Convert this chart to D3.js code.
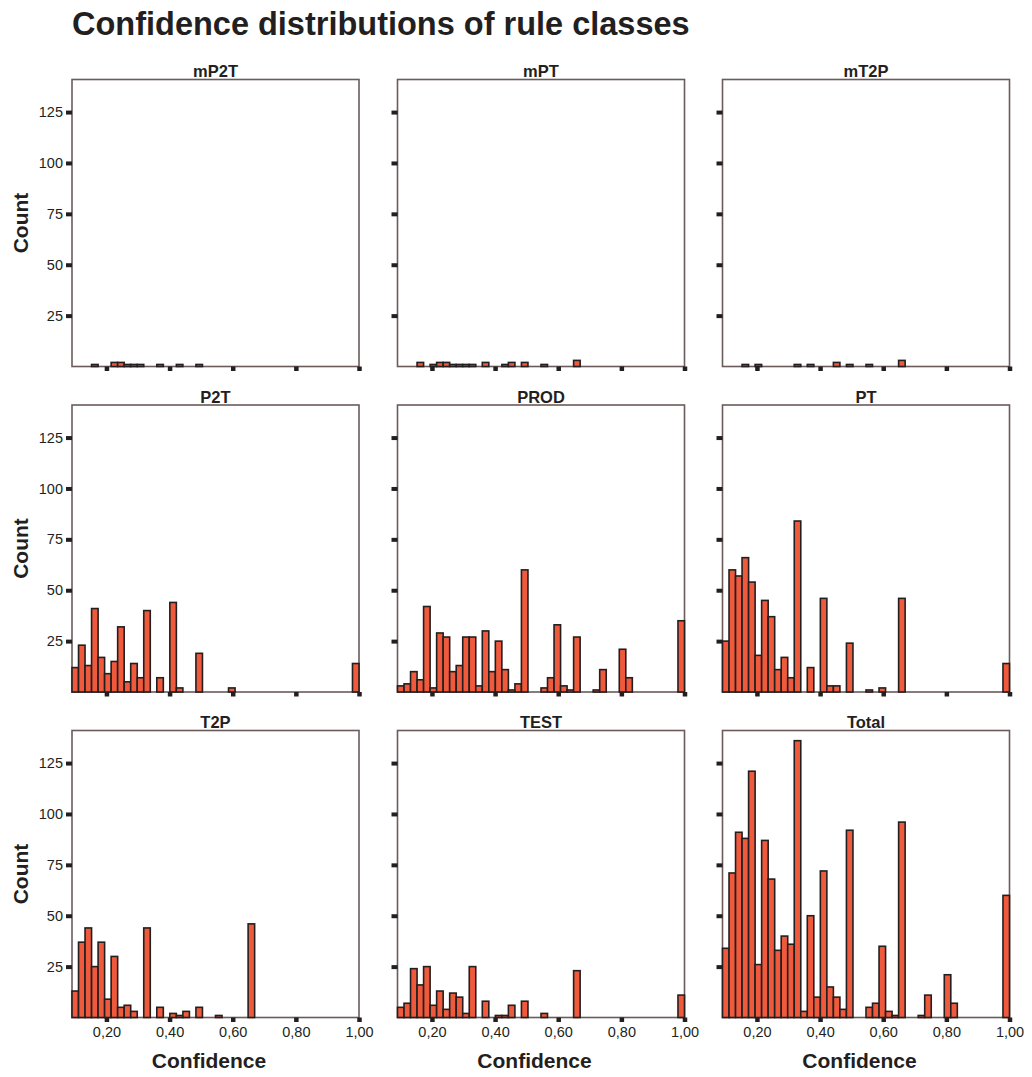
<!DOCTYPE html>
<html>
<head>
<meta charset="utf-8">
<script src="https://cdn.jsdelivr.net/npm/d3@7"></script>
<style>
  html, body { margin: 0; padding: 0; background: #ffffff; }
  svg { display: block; }
  text { font-family: Arial, "Liberation Sans", Helvetica, sans-serif; fill: #231f20; }
</style>
</head>
<body>
<svg id="chart" width="1032" height="1077"></svg>
<script>
// Rule classes, in panel order (row by row)
const classes = ["mP2T", "mPT", "mT2P", "P2T", "PROD", "PT", "T2P", "TEST", "Total"];

// Histogram binning: 44 equal bins spanning the confidence range
const confMin = 1 / 11;
const confMax = 1;
const binCount = 44;

// Counts per confidence bin for each class
const mP2T = [0,0,0,1,0,0,2,2,1,1, 1,0,0,1,0,0,1,0,0,1, 0,0,0,0,0,0,0,0,0,0, 0,0,0,0,0,0,0,0,0,0, 0,0,0,0];
const mPT  = [0,0,0,2,0,1,2,2,1,1, 1,1,0,2,0,0,1,2,0,2, 0,0,1,0,0,0,0,3,0,0, 0,0,0,0,0,0,0,0,0,0, 0,0,0,0];
const mT2P = [0,0,0,1,0,1,0,0,0,0, 0,1,0,1,0,0,0,2,0,1, 0,0,1,0,0,0,0,3,0,0, 0,0,0,0,0,0,0,0,0,0, 0,0,0,0];
const P2T  = [12,23,13,41,17,9,15,32,5,14, 7,40,0,7,0,44,2,0,0,19, 0,0,0,0,2,0,0,0,0,0, 0,0,0,0,0,0,0,0,0,0, 0,0,0,14];
const PROD = [3,4,10,6,42,2,29,27,10,13, 27,27,3,30,10,25,11,1,4,60, 0,0,2,7,33,3,1,27,0,0, 1,11,0,0,21,7,0,0,0,0, 0,0,0,35];
const PT   = [25,60,57,66,54,18,45,37,11,17, 7,84,0,12,0,46,3,3,0,24, 0,0,1,0,2,0,0,46,0,0, 0,0,0,0,0,0,0,0,0,0, 0,0,0,14];
const T2P  = [13,37,44,25,37,9,30,5,6,3, 0,44,0,5,0,2,1,3,0,5, 0,0,1,0,0,0,0,46,0,0, 0,0,0,0,0,0,0,0,0,0, 0,0,0,0];
const TEST = [5,7,24,16,25,6,13,4,12,10, 2,25,0,8,0,1,1,6,0,8, 0,0,2,0,0,0,0,23,0,0, 0,0,0,0,0,0,0,0,0,0, 0,0,0,11];
const Total = [34,71,91,88,121,26,87,68,33,40, 36,136,3,50,10,72,15,10,4,92, 0,0,5,7,35,3,1,96,0,0, 1,11,0,0,21,7,0,0,0,0, 0,0,0,60];

const seriesByClass = { mP2T, mPT, mT2P, P2T, PROD, PT, T2P, TEST, Total };

// Axis ticks
const xTicks = [0.2, 0.4, 0.6, 0.8, 1.0];
const yTicks = [25, 50, 75, 100, 125];
const yMax = 141;

// Layout of the 3x3 grid
const colX = [72, 397.5, 722.5];
const rowY = [79.5, 405, 730.5];
const panelW = 287;
const panelH = 287;

const barFill = "#f05a3c";
const inkColor = "#231f20";
const frameColor = "#6b5b5b";

const svg = d3.select("#chart");

const locale = d3.formatLocale({ decimal: ",", thousands: ".", grouping: [3], currency: ["", ""] });
const fmtX = locale.format(".2f");

const x = d3.scaleLinear().domain([confMin, confMax]).range([0, panelW]);
const y = d3.scaleLinear().domain([0, yMax]).range([panelH, 0]);
const binW = (confMax - confMin) / binCount;

// Title
svg.append("text")
  .attr("x", 72)
  .attr("y", 35)
  .attr("font-size", 32.5)
  .attr("font-weight", "bold")
  .text("Confidence distributions of rule classes");

classes.forEach((name, i) => {
  const col = i % 3, row = Math.floor(i / 3);
  const g = svg.append("g").attr("transform", `translate(${colX[col]},${rowY[row]})`);
  const counts = seriesByClass[name];

  // panel frame
  g.append("rect")
    .attr("x", 0).attr("y", 0)
    .attr("width", panelW).attr("height", panelH)
    .attr("fill", "none")
    .attr("stroke", frameColor)
    .attr("stroke-width", 1.6);

  // panel heading
  g.append("text")
    .attr("x", panelW / 2)
    .attr("y", -2.5)
    .attr("text-anchor", "middle")
    .attr("font-size", 16.5)
    .attr("font-weight", "bold")
    .text(name);

  // histogram bars
  const bins = counts.map((c, k) => ({ x0: confMin + k * binW, x1: confMin + (k + 1) * binW, count: c }))
    .filter(d => d.count > 0);

  g.selectAll("rect.bar")
    .data(bins)
    .join("rect")
    .attr("class", "bar")
    .attr("x", d => x(d.x0))
    .attr("width", d => x(d.x1) - x(d.x0))
    .attr("y", d => y(d.count))
    .attr("height", d => y(0) - y(d.count))
    .attr("fill", barFill)
    .attr("stroke", inkColor)
    .attr("stroke-width", 1.6);

  // y axis: short thick tick marks, labels only in the first column
  const yAxis = d3.axisLeft(y).tickValues(yTicks).tickSize(6).tickPadding(3)
    .tickFormat(col === 0 ? d3.format("d") : () => "");
  const ya = g.append("g").call(yAxis);
  ya.select(".domain").remove();
  ya.selectAll(".tick line").attr("stroke", inkColor).attr("stroke-width", 4);
  ya.selectAll(".tick text")
    .attr("font-size", 14.5)
    .attr("font-family", null)
    .attr("fill", inkColor);

  // x axis: square tick marks, labels only in the bottom row
  const xAxis = d3.axisBottom(x).tickValues(xTicks).tickSize(4.5).tickPadding(5)
    .tickFormat(row === 2 ? fmtX : () => "");
  const xa = g.append("g").attr("transform", `translate(0,${panelH})`).call(xAxis);
  xa.select(".domain").remove();
  xa.selectAll(".tick line").attr("stroke", inkColor).attr("stroke-width", 4.5);
  xa.selectAll(".tick text")
    .attr("font-size", 14.5)
    .attr("font-family", null)
    .attr("fill", inkColor);

  // row axis title
  if (col === 0) {
    svg.append("text")
      .attr("transform", `translate(28.3,${rowY[row] + panelH / 2}) rotate(-90)`)
      .attr("text-anchor", "middle")
      .attr("font-size", 21)
      .attr("font-weight", "bold")
      .text("Count");
  }
  // column axis title
  if (row === 2) {
    svg.append("text")
      .attr("x", colX[col] + panelW / 2 - 6.5)
      .attr("y", 1068)
      .attr("text-anchor", "middle")
      .attr("font-size", 21)
      .attr("font-weight", "bold")
      .text("Confidence");
  }
});
</script>
</body>
</html>
